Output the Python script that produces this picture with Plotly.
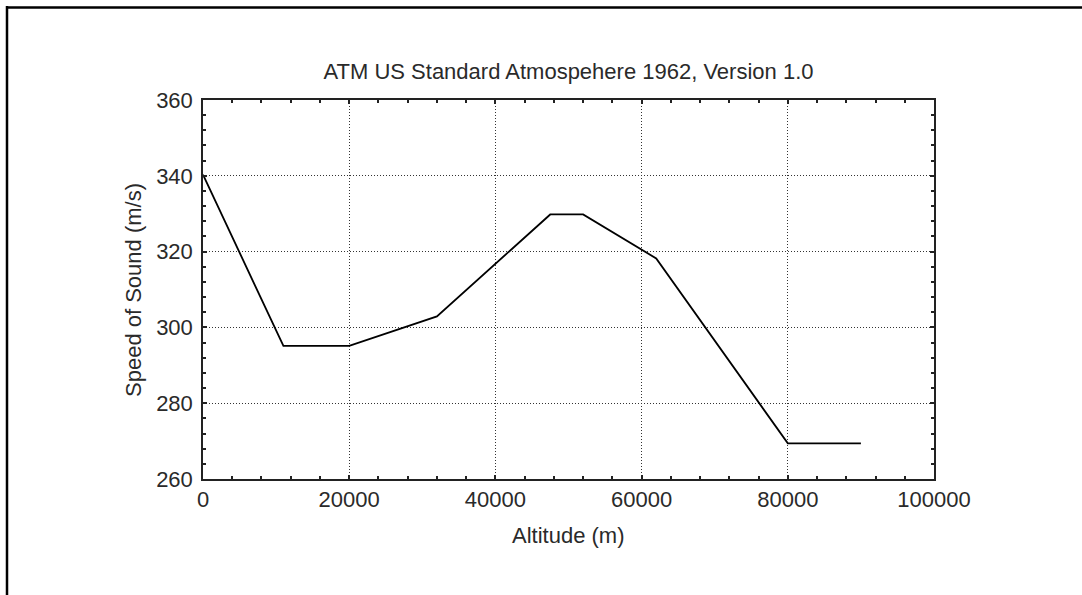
import plotly.graph_objects as go

altitude_m = [0, 11000, 20000, 32000, 47500, 52000, 62000, 80000, 90000]
speed_ms = [340.3, 295.1, 295.1, 302.9, 329.8, 329.8, 318.2, 269.4, 269.4]

title_text = "ATM US Standard Atmospehere 1962, Version 1.0"
x_title = "Altitude (m)"
y_title = "Speed of Sound (m/s)"
x_ticks = [0, 20000, 40000, 60000, 80000, 100000]
x_ticklabels = ["0", "20000", "40000", "60000", "80000", "100000"]
y_ticks = [260, 280, 300, 320, 340, 360]

W, H = 1082, 595
L, R, T, B = 203, 934, 100, 479

FONT = "Liberation Sans, Arial, sans-serif"
TXT = "#2a2a2a"
FS = 22

fig = go.Figure()
fig.add_trace(go.Scatter(x=altitude_m, y=speed_ms, mode="lines",
                         line=dict(color="black", width=1.8), showlegend=False))

axis_common = dict(
    showline=True, linecolor="#222", linewidth=1.5, mirror="allticks",
    ticks="inside", ticklen=4, tickcolor="#222", tickwidth=1.5,
    showgrid=True, gridcolor="#333", gridwidth=1, griddash="1px,2px",
    zeroline=False,
    tickfont=dict(family=FONT, size=FS, color=TXT),
    minor=dict(ticks="inside", ticklen=3, tickcolor="#222", tickwidth=1.5,
               showgrid=False),
)

pw, ph = R - L, B - T
def px_x(px):
    return (px - L) / pw
def px_y(py):
    return (B - py) / ph

fig.update_layout(
    width=W, height=H,
    margin=dict(l=L, r=W - R, t=T, b=H - B),
    paper_bgcolor="white", plot_bgcolor="white",
    title=dict(text=title_text, x=(L + R) / 2 / W, xanchor="center",
               y=1 - 71 / H, yanchor="middle",
               font=dict(family=FONT, size=FS, color=TXT)),
    xaxis=dict(range=[0, 100000], tickvals=x_ticks, ticktext=x_ticklabels,
               **axis_common),
    yaxis=dict(range=[260, 360], tickvals=y_ticks, ticklabelstandoff=4,
               **axis_common),
)
fig.update_xaxes(minor=dict(dtick=4000, tick0=0))
fig.update_yaxes(minor=dict(dtick=4, tick0=260))

fig.add_annotation(text=x_title, xref="paper", yref="paper",
                   x=px_x(568), y=px_y(535), xanchor="center", yanchor="middle",
                   showarrow=False, font=dict(family=FONT, size=FS, color=TXT))
fig.add_annotation(text=y_title, xref="paper", yref="paper", textangle=-90,
                   x=px_x(133), y=px_y(290), xanchor="center", yanchor="middle",
                   showarrow=False, font=dict(family=FONT, size=FS, color=TXT))

# outer frame (extends beyond right/bottom edges)
fig.add_shape(type="line", xref="paper", yref="paper",
              x0=px_x(6), x1=px_x(1100), y0=px_y(7.5), y1=px_y(7.5),
              line=dict(color="black", width=2.5))
fig.add_shape(type="line", xref="paper", yref="paper",
              x0=px_x(7), x1=px_x(7), y0=px_y(6), y1=px_y(620),
              line=dict(color="black", width=2.5))

fig.write_html("out.html", config={"displayModeBar": False},
               post_script="document.body.style.margin='0';")
